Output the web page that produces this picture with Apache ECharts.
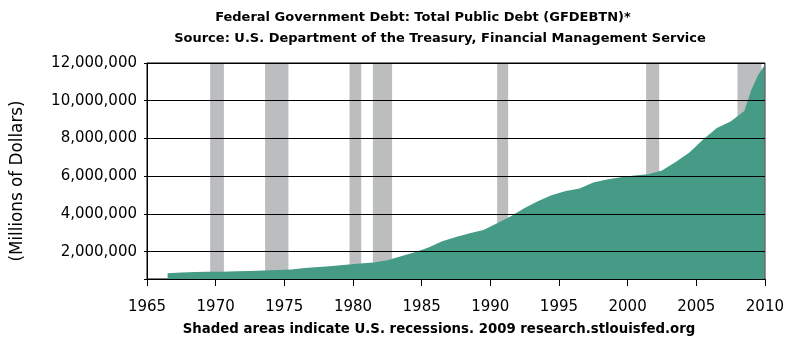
<!DOCTYPE html>
<html>
<head>
<meta charset="utf-8">
<script src="https://cdn.jsdelivr.net/npm/echarts@6/dist/echarts.min.js"></script>
<style>
  html, body { margin: 0; padding: 0; background: #fff; }
  #chart { width: 787px; height: 337px; }
</style>
</head>
<body>
<div id="chart"></div>
<script>
// debt series, millions of dollars
const years = [1966.5, 1967.5, 1968.5, 1969.5, 1970.5, 1971.5, 1972.5, 1973.5, 1974.5, 1975.5,
  1976.5, 1977.5, 1978.5, 1979.5, 1980.5, 1981.5, 1982.5, 1983.5, 1984.5, 1985.5,
  1986.5, 1987.5, 1988.5, 1989.5, 1990.5, 1991.5, 1992.5, 1993.5, 1994.5, 1995.5,
  1996.5, 1997.5, 1998.5, 1999.5, 2000.5, 2001.5, 2002.5, 2003.5, 2004.5, 2005.5,
  2006.5, 2007.5, 2008.5, 2009.0, 2009.5, 2009.95];
const debt = [860000, 890000, 920000, 930000, 940000, 960000, 980000, 1000000, 1030000, 1060000,
  1130000, 1180000, 1240000, 1300000, 1370000, 1420000, 1550000, 1750000, 1970000, 2220000,
  2550000, 2780000, 2970000, 3150000, 3500000, 3880000, 4320000, 4680000, 5000000, 5220000,
  5350000, 5670000, 5830000, 5950000, 6030000, 6100000, 6300000, 6750000, 7250000, 7950000,
  8550000, 8900000, 9450000, 10550000, 11350000, 11850000];

// recession periods (shaded)
const recStart = [1969.6, 1973.6, 1979.75, 1981.45, 1990.5, 2001.35, 2008.0];
const recEnd = [1970.6, 1975.3, 1980.6, 1982.85, 1991.3, 2002.3, 2009.75];

const yLabels = [2000000, 4000000, 6000000, 8000000, 10000000, 12000000];
const yMin = 550000;

const FONT = 'DejaVu Sans';
const chart = echarts.init(document.getElementById('chart'));

const option = {
  animation: false,
  title: [
    {
      text: 'Federal Government Debt: Total Public Debt (GFDEBTN)*',
      left: 418, top: 6, textAlign: 'center',
      textStyle: { fontFamily: FONT, fontSize: 13, fontWeight: 'bold', color: '#000' }
    },
    {
      text: 'Source: U.S. Department of the Treasury, Financial Management Service',
      left: 435, top: 27, textAlign: 'center',
      textStyle: { fontFamily: FONT, fontSize: 13, fontWeight: 'bold', color: '#000' }
    },
    {
      text: 'Shaded areas indicate U.S. recessions. 2009 research.stlouisfed.org',
      left: 434, top: 318, textAlign: 'center',
      textStyle: { fontFamily: FONT, fontSize: 13.3, fontWeight: 'bold', color: '#000' }
    }
  ],
  graphic: [
    {
      type: 'text',
      x: 18, y: 181, rotation: Math.PI / 2,
      style: {
        text: '(Millions of Dollars)',
        font: '16.8px "DejaVu Sans"', fill: '#000',
        align: 'center', verticalAlign: 'middle'
      }
    }
  ],
  grid: {
    left: 147, right: 22, top: 63, bottom: 58,
    show: true, borderColor: '#000', borderWidth: 1, backgroundColor: 'transparent'
  },
  xAxis: {
    type: 'value',
    min: 1965, max: 2010, interval: 5,
    axisLine: { lineStyle: { color: '#000', width: 1 } },
    axisTick: { length: 7, lineStyle: { color: '#000' } },
    axisLabel: {
      color: '#000', fontFamily: FONT, fontSize: 15, margin: 21,
      formatter: v => String(v)
    },
    splitLine: { show: false },
    z: 10
  },
  yAxis: {
    type: 'value',
    min: yMin, max: 12000000,
    axisLine: { show: true, lineStyle: { color: '#000', width: 1 } },
    axisTick: { show: true, length: 3, customValues: [yMin].concat(yLabels), lineStyle: { color: '#000' } },
    axisLabel: {
      customValues: yLabels,
      color: '#000', fontFamily: FONT, fontSize: 15, margin: 10
    },
    splitLine: { show: true, lineStyle: { color: '#000', width: 1 } },
    z: 10
  },
  series: [
    {
      name: 'recessions',
      type: 'line',
      data: [],
      silent: true,
      markArea: {
        silent: true,
        itemStyle: { color: '#bcbdbf' },
        data: recStart.map((s, i) => [{ xAxis: s }, { xAxis: recEnd[i] }])
      }
    },
    {
      name: 'GFDEBTN',
      type: 'line',
      data: years.map((y, i) => [y, debt[i]]),
      symbol: 'none',
      lineStyle: { width: 0 },
      areaStyle: { color: '#469b87', opacity: 1, origin: 'start' }
    }
  ]
};

chart.setOption(option);
</script>
</body>
</html>
